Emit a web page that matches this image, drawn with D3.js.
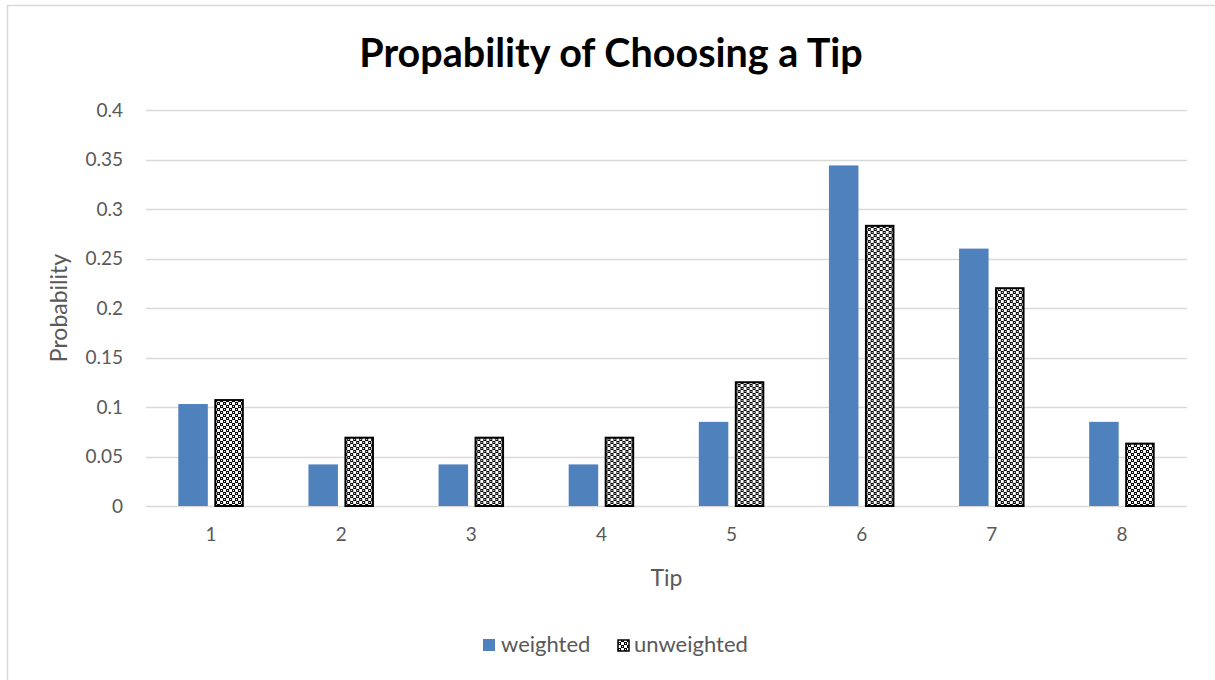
<!DOCTYPE html>
<html>
<head>
<meta charset="utf-8">
<script src="https://cdn.jsdelivr.net/npm/d3@7"></script>
<style>
  html, body { margin: 0; padding: 0; background: #fff; }
  svg { display: block; }
  text { font-family: Lato, "Open Sans", sans-serif; }
</style>
</head>
<body>
<svg id="chart" width="1215" height="680"></svg>
<script>
const categories = ["1", "2", "3", "4", "5", "6", "7", "8"];
const weighted   = [0.103, 0.042, 0.042, 0.042, 0.085, 0.344, 0.260, 0.085];
const unweighted = [0.107, 0.069, 0.069, 0.069, 0.125, 0.283, 0.220, 0.063];
const yTicks = [0, 0.05, 0.1, 0.15, 0.2, 0.25, 0.3, 0.35, 0.4];
const yTickLabels = ["0", "0.05", "0.1", "0.15", "0.2", "0.25", "0.3", "0.35", "0.4"];
const seriesNames = ["weighted", "unweighted"];

const svg = d3.select("#chart");
const W = 1215, H = 680;
const plot = { left: 146, right: 1187, top: 110, bottom: 506 };
const textGray = "#595959";

// chart frame
svg.append("rect")
  .attr("x", 7.5).attr("y", 5.5)
  .attr("width", W).attr("height", H)
  .attr("fill", "#fff").attr("stroke", "#d9d9d9").attr("stroke-width", 1.5);

// checker pattern for the unweighted series
const defs = svg.append("defs");
const pat = defs.append("pattern")
  .attr("id", "checker")
  .attr("patternUnits", "userSpaceOnUse")
  .attr("width", 6).attr("height", 6);
pat.append("rect").attr("width", 6).attr("height", 6).attr("fill", "#fff");
pat.append("rect").attr("x", 0).attr("y", 0).attr("width", 3).attr("height", 3).attr("fill", "#000");
pat.append("rect").attr("x", 3).attr("y", 3).attr("width", 3).attr("height", 3).attr("fill", "#000");
pat.append("rect").attr("x", 1).attr("y", 1).attr("width", 1).attr("height", 1).attr("fill", "#fff");
pat.append("rect").attr("x", 4).attr("y", 4).attr("width", 1).attr("height", 1).attr("fill", "#fff");

const x = d3.scaleBand().domain(categories).range([plot.left, plot.right]).padding(0);
const y = d3.scaleLinear().domain([0, 0.4]).range([plot.bottom, plot.top]);

// gridlines
svg.append("g")
  .selectAll("line")
  .data(yTicks)
  .join("line")
  .attr("x1", plot.left).attr("x2", plot.right)
  .attr("y1", d => Math.round(y(d)) + 0.5).attr("y2", d => Math.round(y(d)) + 0.5)
  .attr("stroke", "#d9d9d9").attr("stroke-width", 1.5);

// y-axis labels
const yAxis = d3.axisLeft(y).tickValues(yTicks)
  .tickFormat((d, i) => yTickLabels[i]).tickSize(0).tickPadding(23);
const gy = svg.append("g").attr("transform", `translate(${plot.left},0)`).call(yAxis);
gy.select(".domain").remove();
gy.selectAll("text").attr("fill", textGray).style("font-size", "19px")
  .style("font-family", "Lato, 'Open Sans', sans-serif");

// x-axis labels
const xAxis = d3.axisBottom(x).tickSize(0).tickPadding(22);
const gx = svg.append("g").attr("transform", `translate(0,${plot.bottom})`).call(xAxis);
gx.select(".domain").remove();
gx.selectAll("text").attr("fill", textGray).style("font-size", "19px")
  .style("font-family", "Lato, 'Open Sans', sans-serif");

// bars
const barW = 29.5, gap = 6.5;
const groups = svg.append("g").selectAll("g")
  .data(categories)
  .join("g")
  .attr("transform", d => `translate(${x(d) + x.bandwidth() / 2},0)`);

groups.append("rect")
  .attr("x", -barW - gap / 2)
  .attr("width", barW)
  .attr("y", (d, i) => y(weighted[i]))
  .attr("height", (d, i) => y(0) - y(weighted[i]))
  .attr("fill", "#4f81bd");

groups.append("rect")
  .attr("x", gap / 2 + 1)
  .attr("width", barW - 2)
  .attr("y", (d, i) => y(unweighted[i]))
  .attr("height", (d, i) => y(0) - y(unweighted[i]))
  .attr("fill", "url(#checker)")
  .attr("stroke", "#000").attr("stroke-width", 2);

// title
svg.append("text")
  .attr("x", 611).attr("y", 67)
  .attr("text-anchor", "middle")
  .style("font-size", "39.5px").style("font-weight", "bold")
  .attr("fill", "#000")
  .text("Propability of Choosing a Tip");

// axis titles
svg.append("text")
  .attr("x", (plot.left + plot.right) / 2).attr("y", 586)
  .attr("text-anchor", "middle").attr("fill", textGray)
  .style("font-size", "23px").text("Tip");

svg.append("text")
  .attr("transform", `translate(67,${(plot.top + plot.bottom) / 2}) rotate(-90)`)
  .attr("text-anchor", "middle").attr("fill", textGray)
  .style("font-size", "23px").text("Probability");

// legend
const legend = svg.append("g").attr("transform", "translate(483,639)");
legend.append("rect").attr("x", 0).attr("y", 0).attr("width", 12).attr("height", 12)
  .attr("fill", "#4f81bd");
legend.append("text").attr("x", 18).attr("y", 13).attr("fill", textGray)
  .style("font-size", "22px").text(seriesNames[0]);
legend.append("rect").attr("x", 135).attr("y", 1).attr("width", 11).attr("height", 11)
  .attr("fill", "url(#checker)").attr("stroke", "#000").attr("stroke-width", 1.5);
legend.append("text").attr("x", 151).attr("y", 13).attr("fill", textGray)
  .style("font-size", "22px").text(seriesNames[1]);
</script>
</body>
</html>
